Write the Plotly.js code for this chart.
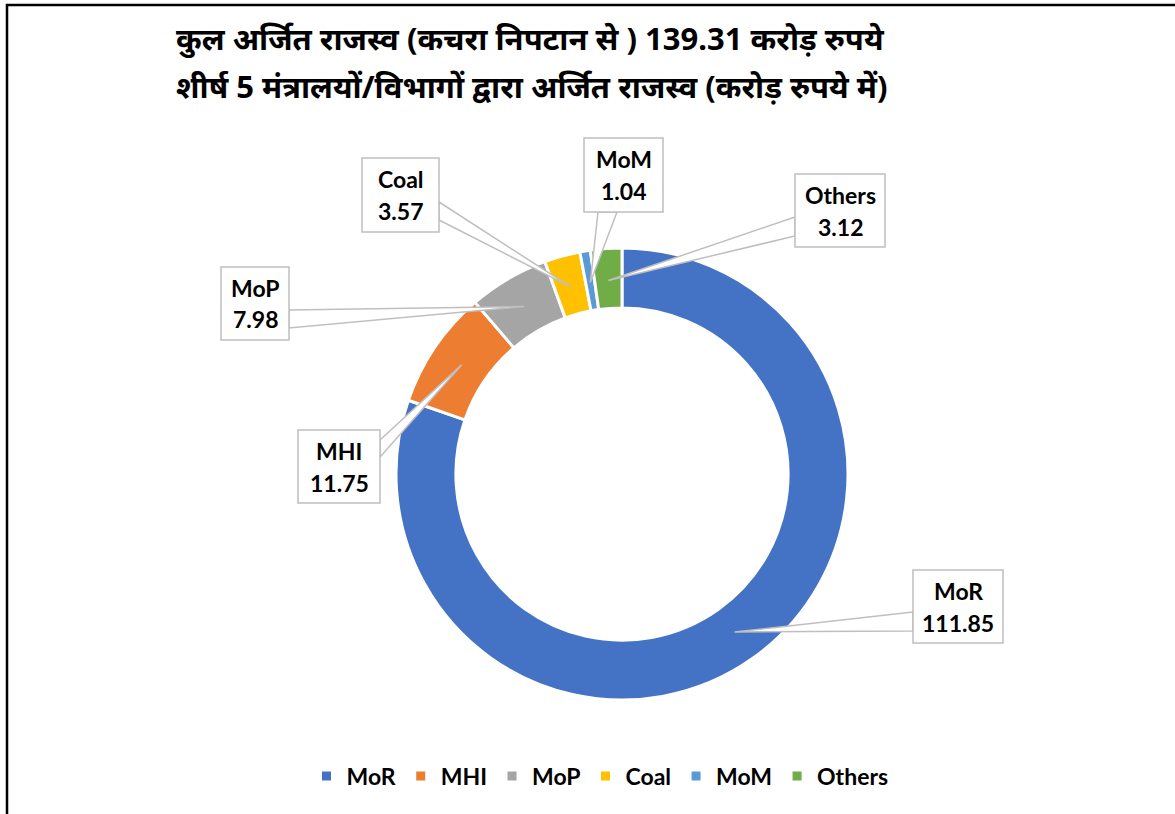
<!DOCTYPE html>
<html><head><meta charset="utf-8">
<script src="https://cdn.plot.ly/plotly-3.0.1.min.js"></script>
<style>body{margin:0;background:#fff}#chart{width:1175px;height:814px}</style>
</head><body><div id="chart"></div>
<script>
const categories = ['MoR', 'MHI', 'MoP', 'Coal', 'MoM', 'Others'];
const values = [111.85, 11.75, 7.98, 3.57, 1.04, 3.12];
const colors = ['#4472C4', '#ED7D31', '#A5A5A5', '#FFC000', '#5B9BD5', '#70AD47'];
const titleLine1 = 'कुल अर्जित राजस्व (कचरा निपटान से ) 139.31 करोड़ रुपये';
const titleLine2 = 'शीर्ष 5 मंत्रालयों/विभागों द्वारा अर्जित राजस्व (करोड़ रुपये में)';

// layout geometry (pixels)
const W = 1175, H = 814;
const CX = 622, CY = 474, R_OUT = 226, HOLE = 0.735, R_PT = 194;
// callout boxes: [x0, y0, x1, y1, anchor1x, anchor1y, anchor2x, anchor2y]
const boxes = [
  [913, 570, 1003, 643, 913, 612, 913, 631],
  [298, 430, 380, 503, 380, 440, 380, 457],
  [221, 267, 289, 340, 289, 310, 289, 328],
  [362, 158, 439, 232, 439, 202, 439, 220],
  [584, 138, 663, 212, 598, 212, 617, 212],
  [795, 174, 885, 247, 795, 217, 795, 236]
];

const px = x => x / W;
const py = y => 1 - y / H;
const FONT = 'Lato, "Open Sans", sans-serif';
const total = values.reduce((a, b) => a + b, 0);

const shapes = [];
const annotations = [];
let cum = 0;
values.forEach((v, i) => {
  const mid = (cum + v / 2) / total * 2 * Math.PI;
  cum += v;
  const ptx = CX + R_PT * Math.sin(mid);
  const pty = CY - R_PT * Math.cos(mid);
  const b = boxes[i];
  shapes.push({
    type: 'path', xref: 'paper', yref: 'paper',
    path: `M ${px(b[4])} ${py(b[5])} L ${px(ptx)} ${py(pty)} L ${px(b[6])} ${py(b[7])} Z`,
    fillcolor: '#ffffff', line: {color: '#BFBFBF', width: 1.5}
  });
  shapes.push({
    type: 'rect', xref: 'paper', yref: 'paper',
    x0: px(b[0]), x1: px(b[2]), y0: py(b[1]), y1: py(b[3]),
    fillcolor: '#ffffff', line: {color: '#BFBFBF', width: 1.5}
  });
  const bcx = (b[0] + b[2]) / 2, bcy = (b[1] + b[3]) / 2;
  annotations.push({
    xref: 'paper', yref: 'paper', x: px(bcx), y: py(bcy - 16),
    text: categories[i], showarrow: false, xanchor: 'center', yanchor: 'middle',
    font: {family: FONT, size: 23, color: '#000', weight: 'bold'}
  });
  annotations.push({
    xref: 'paper', yref: 'paper', x: px(bcx), y: py(bcy + 16),
    text: values[i].toFixed(2), showarrow: false, xanchor: 'center', yanchor: 'middle',
    font: {family: FONT, size: 23, color: '#000', weight: 'bold'}
  });
});

// title lines
annotations.push({
  xref: 'paper', yref: 'paper', x: px(530), y: py(38), text: titleLine1, showarrow: false,
  xanchor: 'center', yanchor: 'middle',
  font: {family: '"Noto Sans", ' + FONT, size: 31, color: '#000', weight: 'bold'}
});
annotations.push({
  xref: 'paper', yref: 'paper', x: px(532), y: py(86), text: titleLine2, showarrow: false,
  xanchor: 'center', yanchor: 'middle',
  font: {family: '"Noto Sans", ' + FONT, size: 31, color: '#000', weight: 'bold'}
});

// outer border
shapes.push({
  type: 'rect', xref: 'paper', yref: 'paper', layer: 'below',
  x0: px(7), x1: px(W + 10), y0: py(5), y1: py(H + 10),
  line: {color: '#000', width: 2.5}, fillcolor: 'rgba(0,0,0,0)'
});

const trace = {
  type: 'pie', labels: categories, values: values, sort: false,
  direction: 'clockwise', rotation: 0, hole: HOLE,
  marker: {colors: colors, line: {color: '#ffffff', width: 3}},
  textinfo: 'none', hoverinfo: 'none',
  domain: {x: [px(CX - R_OUT), px(CX + R_OUT)], y: [py(CY + R_OUT), py(CY - R_OUT)]}
};

const layout = {
  width: W, height: H, margin: {l: 0, r: 0, t: 0, b: 0},
  paper_bgcolor: '#ffffff', plot_bgcolor: '#ffffff',
  showlegend: true,
  legend: {
    orientation: 'h', x: px(600), xanchor: 'center', y: py(776), yanchor: 'middle',
    font: {family: FONT, size: 23, color: '#000', weight: 'bold'},
    traceorder: 'normal', itemclick: false, itemdoubleclick: false
  },
  shapes: shapes, annotations: annotations
};

Plotly.newPlot('chart', [trace], layout, {displayModeBar: false, staticPlot: true});
</script></body></html>
